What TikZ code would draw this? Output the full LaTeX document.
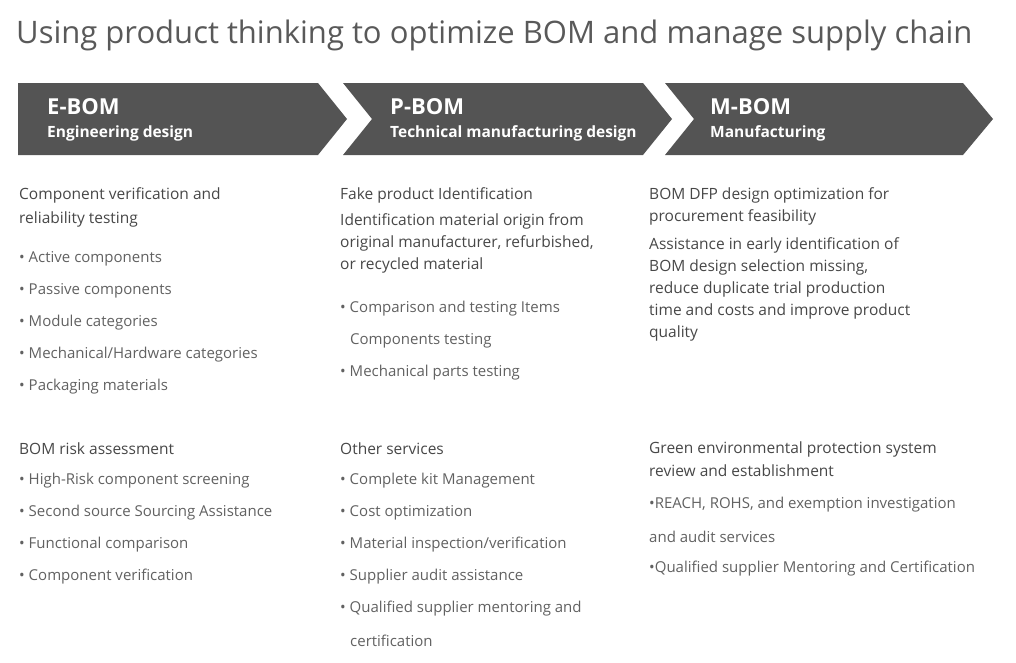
\documentclass[tikz,border=0pt]{standalone}
\usepackage{fontspec}
\setmainfont{Open Sans}
\begin{document}
\begin{tikzpicture}[x=1pt,y=-1pt,
  chev/.style={fill=black!67,draw=none},
  hd/.style={anchor=west,text=white,font=\fontsize{22}{24}\selectfont\bfseries,inner sep=0},
  sub/.style={anchor=west,text=white,font=\fontsize{15.5}{18}\selectfont\bfseries,inner sep=0},
  h/.style={anchor=west,text=black!72,font=\fontsize{15.5}{18}\selectfont,inner sep=0},
  t/.style={anchor=west,text=black!62,font=\fontsize{15}{18}\selectfont,inner sep=0}]
\useasboundingbox (0,0) rectangle (1016,662);
\node[anchor=west,inner sep=0,text=black!65,font=\fontsize{31}{34}\selectfont] (title) at (16,35) {Using product thinking to optimize BOM and manage supply chain};
\fill[chev] (18,83)--(318,83)--(347,119)--(318,155)--(18,155)--cycle;
\fill[chev] (343,83)--(643,83)--(672,119)--(643,155)--(343,155)--(372,119)--cycle;
\fill[chev] (665,83)--(963,83)--(993,119)--(963,155)--(665,155)--(694,119)--cycle;
\node[hd] (e) at (47,107) {E-BOM};
\node[sub] (es) at (47,133) {Engineering design};
\node[hd] (p) at (390,107) {P-BOM};
\node[sub] (ps) at (390,133) {Technical manufacturing design};
\node[hd] (m) at (710,107) {M-BOM};
\node[sub] (ms) at (710,133) {Manufacturing};
% col1
\node[h] (a1) at (19,195) {Component verification and};
\node[h] (a2) at (19,219) {reliability testing};
\node[t] (a3) at (19,259) {• Active components};
\node[t] (a4) at (19,291) {• Passive components};
\node[t] (a5) at (19,323) {• Module categories};
\node[t] (a6) at (19,355) {• Mechanical/Hardware categories};
\node[t] (a7) at (19,387) {• Packaging materials};
\node[h] (a8) at (19,449) {BOM risk assessment};
\node[t] (a9) at (19,481) {• High-Risk component screening};
\node[t] (a10) at (19,513) {• Second source Sourcing Assistance};
\node[t] (a11) at (19,545) {• Functional comparison};
\node[t] (a12) at (19,577) {• Component verification};
% col2
\node[h] (b1) at (340,195) {Fake product Identification};
\node[h] (b2) at (340,221) {Identification material origin from};
\node[h] (b3) at (340,243) {original manufacturer, refurbished,};
\node[h] (b4) at (340,265) {or recycled material};
\node[t] (b5) at (340,309) {• Comparison and testing Items};
\node[t] (b6) at (350,341) {Components testing};
\node[t] (b7) at (340,373) {• Mechanical parts testing};
\node[h] (b8) at (340,449) {Other services};
\node[t] (b9) at (340,481) {• Complete kit Management};
\node[t] (b10) at (340,513) {• Cost optimization};
\node[t] (b11) at (340,545) {• Material inspection/verification};
\node[t] (b12) at (340,577) {• Supplier audit assistance};
\node[t] (b13) at (340,609) {• Qualified supplier mentoring and};
\node[t] (b14) at (350,641) {certification};
% col3
\node[h] (c1) at (649,195) {BOM DFP design optimization for};
\node[h] (c2) at (649,217) {procurement feasibility};
\node[h] (c3) at (649,245) {Assistance in early identification of};
\node[h] (c4) at (649,267) {BOM design selection missing,};
\node[h] (c5) at (649,289) {reduce duplicate trial production};
\node[h] (c6) at (649,311) {time and costs and improve product};
\node[h] (c7) at (649,333) {quality};
\node[h] (c8) at (649,449) {Green environmental protection system};
\node[h] (c9) at (649,471) {review and establishment};
\node[t,text width=337pt,align=justify] (c10) at (649,505) {•REACH, ROHS, and exemption investigation};
\node[t] (c11) at (649,537) {and audit services};
\node[t] (c12) at (649,569) {•Qualified supplier Mentoring and Certification};
\end{tikzpicture}
\end{document}
